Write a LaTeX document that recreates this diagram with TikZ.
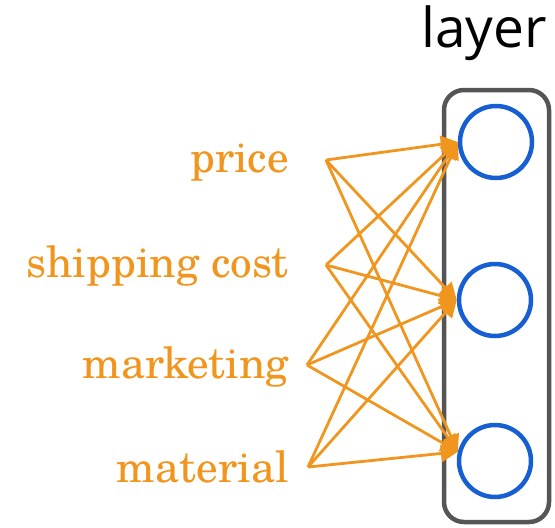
\documentclass[tikz,border=0pt]{standalone}
\usepackage{fontspec}
\newfontfamily\layerfont{Open Sans}
\newfontfamily\scholafont{TeX Gyre Schola}
\usetikzlibrary{arrows.meta}
\definecolor{feat}{RGB}{240,150,30}
\definecolor{unit}{RGB}{22,95,210}
\definecolor{frame}{RGB}{85,85,85}
\tikzset{
  featlabel/.style={anchor=base east, inner sep=0pt, text=feat, font=\scholafont\fontsize{43.3}{48}\selectfont},
  unitnode/.style={circle, draw=unit, line width=4.5pt, minimum size=72pt, inner sep=0pt},
  wire/.style={draw=feat, line width=2.8pt, -{Triangle[length=17pt,width=17pt]}},
  layerbox/.style={draw=frame, line width=4.5pt, rounded corners=20pt}
}
\begin{document}
\begin{tikzpicture}[x=1pt,y=-1pt]
\useasboundingbox (0,0) rectangle (555,528);
\draw[layerbox] (444,90) rectangle (549,522);
\node[anchor=base east, inner sep=0pt, font=\layerfont\fontsize{55}{60}\selectfont] (title) at (547,47) {layer};
\node[featlabel] (price) at (289,172) {price};
\node[featlabel] (ship) at (289,277) {shipping cost};
\node[featlabel] (mkt) at (289,378) {marketing};
\node[featlabel] (mat) at (289,482) {material};
\coordinate (s1) at (326,160);
\coordinate (s2) at (326,265);
\coordinate (s3) at (307,365);
\coordinate (s4) at (308,467);
\node[unitnode] (c1) at (496,142) {};
\node[unitnode] (c2) at (495,300) {};
\node[unitnode] (c3) at (495,461) {};
\foreach \s in {s1,s2,s3,s4}{
  \draw[wire] (\s) -- (c1.west);
  \draw[wire] (\s) -- (c2.west);
  \draw[wire] (\s) -- (c3.166);
}
\end{tikzpicture}
\end{document}
